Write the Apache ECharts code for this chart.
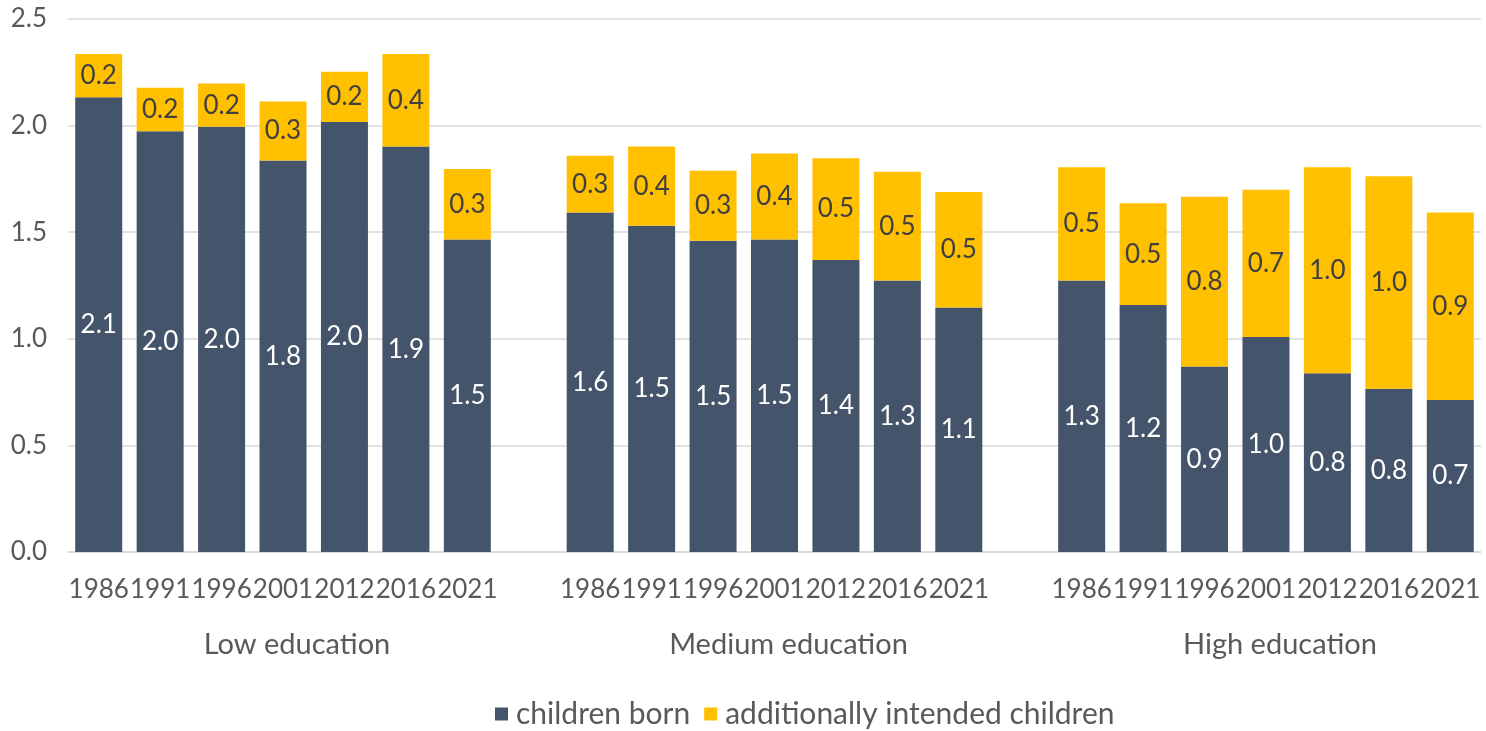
<!DOCTYPE html>
<html>
<head>
<meta charset="utf-8">
<script src="https://cdn.jsdelivr.net/npm/echarts@6/dist/echarts.min.js"></script>
<style>
html,body{margin:0;padding:0;background:#fff;}
#chart{width:1486px;height:731px;}
</style>
</head>
<body>
<div id="chart"></div>
<script>
const years = ['1986', '1991', '1996', '2001', '2012', '2016', '2021'];
const groups = ['Low education', 'Medium education', 'High education'];
const yTicks = [0, 0.5, 1.0, 1.5, 2.0, 2.5];

const bornLow = [2.133, 1.974, 1.995, 1.836, 2.017, 1.902, 1.466];
const bornMedium = [1.592, 1.530, 1.46, 1.466, 1.370, 1.273, 1.147];
const bornHigh = [1.273, 1.158, 0.870, 1.009, 0.839, 0.766, 0.713];

const addLow = [0.203, 0.203, 0.202, 0.277, 0.235, 0.434, 0.330];
const addMedium = [0.267, 0.372, 0.328, 0.403, 0.477, 0.510, 0.542];
const addHigh = [0.532, 0.478, 0.796, 0.690, 0.966, 0.997, 0.879];

const seriesNames = ['children born', 'additionally intended children'];

// Build category axis with a blank slot between groups
const bornGroups = [bornLow, bornMedium, bornHigh];
const addGroups = [addLow, addMedium, addHigh];
const cats = [], groupCats = [], born = [], add = [];
groups.forEach((g, gi) => {
  years.forEach((y, yi) => {
    cats.push(y);
    groupCats.push(yi === Math.floor(years.length / 2) ? g : '');
    born.push(bornGroups[gi][yi]);
    add.push(addGroups[gi][yi]);
  });
  if (gi < groups.length - 1) {
    cats.push('');
    groupCats.push('');
    born.push('-');
    add.push('-');
  }
});

const FONT = 'Lato';
const TXT = '#595959';

const chart = echarts.init(document.getElementById('chart'), null, {renderer: 'canvas'});
chart.setOption({
  animation: false,
  textStyle: {fontFamily: FONT},
  grid: {left: 68, right: 5, top: 19, bottom: 179, containLabel: false},
  legend: {
    data: seriesNames,
    top: 694,
    left: 490,
    icon: 'rect',
    itemWidth: 13,
    itemHeight: 13,
    itemGap: 14,
    textStyle: {fontFamily: FONT, fontSize: 30, color: TXT, padding: [0, 0, 0, 3]}
  },
  xAxis: [
    {
      type: 'category',
      data: cats,
      axisLine: {show: true, lineStyle: {color: '#d9d9d9', width: 1.5}},
      axisTick: {show: false},
      axisLabel: {interval: 0, margin: 25, fontFamily: FONT, fontSize: 26, color: TXT, hideOverlap: false}
    },
    {
      type: 'category',
      position: 'bottom',
      data: groupCats,
      axisLine: {show: false},
      axisTick: {show: false},
      axisLabel: {interval: 0, margin: 78, fontFamily: FONT, fontSize: 29, color: TXT, padding: [0, 0, 0, 28]}
    }
  ],
  yAxis: {
    type: 'value',
    min: yTicks[0],
    max: yTicks[yTicks.length - 1],
    interval: 0.5,
    axisLine: {show: false},
    axisTick: {show: false},
    splitLine: {lineStyle: {color: '#d9d9d9', width: 1.5}},
    axisLabel: {margin: 21, fontFamily: FONT, fontSize: 26, color: TXT, formatter: v => v.toFixed(1)}
  },
  series: [
    {
      name: seriesNames[0],
      type: 'bar',
      stack: 'total',
      data: born,
      barWidth: 47,
      itemStyle: {color: '#44546A'},
      label: {show: true, position: 'inside', color: '#ffffff', fontFamily: FONT, fontSize: 26,
        formatter: p => Number(p.value).toFixed(1)}
    },
    {
      name: seriesNames[1],
      type: 'bar',
      stack: 'total',
      data: add,
      barWidth: 47,
      itemStyle: {color: '#FFC000'},
      label: {show: true, position: 'inside', color: '#404040', fontFamily: FONT, fontSize: 26,
        formatter: p => Number(p.value).toFixed(1)}
    }
  ]
});
</script>
</body>
</html>
